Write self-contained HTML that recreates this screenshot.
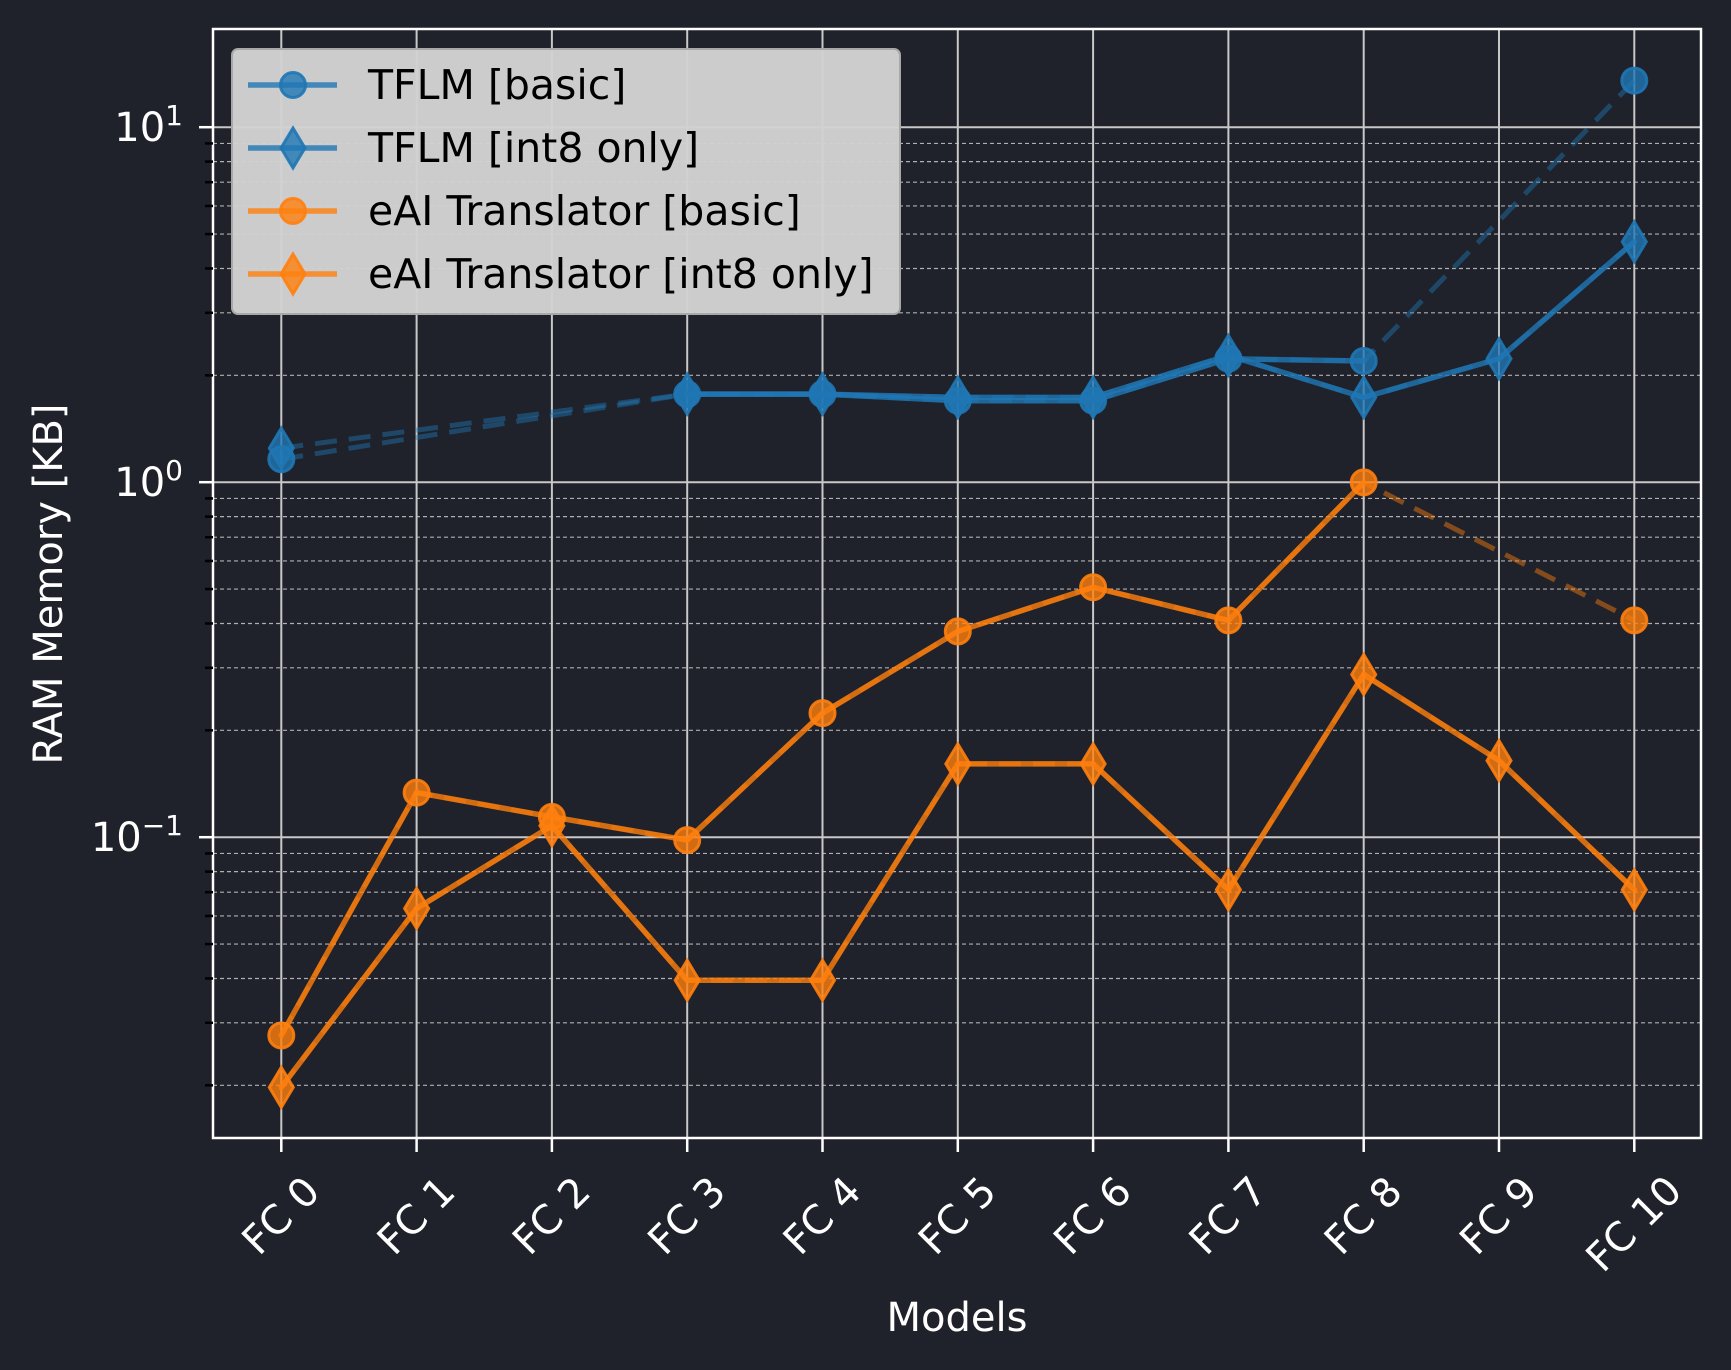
<!DOCTYPE html>
<html><head><meta charset="utf-8"><style>
html,body{margin:0;padding:0;background:#1f212b;}
svg{display:block;font-family:"DejaVu Sans","Liberation Sans",sans-serif;}
</style></head><body>
<svg id="s" width="1731" height="1370" viewBox="0 0 1731 1370" xmlns="http://www.w3.org/2000/svg">
<rect width="1731" height="1370" fill="#1f212b"/>
<g id="grid"></g>
<g id="series"></g>
<rect x="213" y="29" width="1488" height="1109" fill="none" stroke="#ffffff" stroke-width="2.5"/>
<g id="ticks"></g>
<g id="legend"></g>
<text x="957" y="1331" fill="#fff" font-size="40" text-anchor="middle">Models</text>
<text transform="translate(62,584) rotate(-90)" fill="#fff" font-size="40" text-anchor="middle">RAM Memory [KB]</text>
</svg>
<script>
const NS="http://www.w3.org/2000/svg";
function el(p,t,a,txt){const e=document.createElementNS(NS,t);for(const k in a)e.setAttribute(k,a[k]);if(txt!==undefined)e.textContent=txt;p.appendChild(e);return e;}
const L=213,R=1701,T=29,B=1138;
const X=i=>281.3+135.3*i;
const Y=v=>482.2-355*Math.log10(v);
const grid=document.getElementById('grid'),ticks=document.getElementById('ticks');
for(let e=-2;e<=1;e++)for(let m=2;m<=9;m++){const v=m*Math.pow(10,e);const y=Y(v);if(y<T||y>B)continue;
 el(grid,'line',{x1:L,x2:R,y1:y,y2:y,stroke:'#b0b0b0','stroke-width':1.2,'stroke-dasharray':'4,3'});
 el(ticks,'line',{x1:L-8,x2:L,y1:y,y2:y,stroke:'#000','stroke-width':2.5});}
[[1,'1'],[0,'0'],[-1,'−1']].forEach(([e,lab])=>{const y=Y(Math.pow(10,e));
 el(grid,'line',{x1:L,x2:R,y1:y,y2:y,stroke:'#c8c8c8','stroke-width':2});
 el(ticks,'line',{x1:L-14,x2:L,y1:y,y2:y,stroke:'#fff','stroke-width':2.5});
 const t=el(ticks,'text',{x:183,y:y+14,fill:'#fff','font-size':40,'text-anchor':'end'});
 el(t,'tspan',{},'10');el(t,'tspan',{dy:-16,'font-size':28},lab);});
for(let i=0;i<=10;i++){const x=X(i);
 el(grid,'line',{x1:x,x2:x,y1:T,y2:B,stroke:'#c8c8c8','stroke-width':2});
 el(ticks,'line',{x1:x,x2:x,y1:B,y2:B+14,stroke:'#fff','stroke-width':2.5});
 const lab='FC '+i;const w=lab.length*23;const c=1173+(w+30)*0.707/2;
 el(ticks,'text',{transform:`translate(${x},${c}) rotate(-45)`,fill:'#fff','font-size':40,'text-anchor':'middle','dominant-baseline':'central'},lab);}
const k=1.1039;
const S=[
 {c:'#1f77b4',m:'o',d:[416,null,null,357,357,363,363,325,327,null,73]},
 {c:'#1f77b4',m:'d',d:[406,null,null,357,357,360,360,322,360,325,219]},
 {c:'#ff7f0e',m:'o',d:[938,718,740,761,646,572,532,562,437,null,562]},
 {c:'#ff7f0e',m:'d',d:[985,823,748,888,888,692,692,806,611,689,806]}];
const g=document.getElementById('series');
function marker(p,m,x,y,c){ if(m==='o')el(p,'circle',{cx:x,cy:y,r:12.5,fill:c,'fill-opacity':0.8,stroke:c,'stroke-width':3,'stroke-opacity':0.9});
 else el(p,'polygon',{points:`${x},${y-20} ${x+12},${y} ${x},${y+20} ${x-12},${y}`,fill:c,'fill-opacity':0.8,stroke:c,'stroke-width':3,'stroke-opacity':0.9});}
S.forEach(s=>{const pts=[];s.d.forEach((v,i)=>{if(v!==null)pts.push([X(i),v*k,i]);});
 el(g,'polyline',{points:pts.map(p=>p[0]+','+p[1]).join(' '),fill:'none',stroke:s.c,'stroke-width':5,'stroke-opacity':0.45,'stroke-dasharray':'22,12'});
 for(let i=0;i<10;i++){if(s.d[i]!==null&&s.d[i+1]!==null)el(g,'line',{x1:X(i),y1:s.d[i]*k,x2:X(i+1),y2:s.d[i+1]*k,stroke:s.c,'stroke-width':5.5,'stroke-opacity':0.8,'stroke-linecap':'round'});}
 pts.forEach(p=>marker(g,s.m,p[0],p[1],s.c));});
const lg=document.getElementById('legend');
el(lg,'rect',{x:232,y:49,width:668,height:265,rx:6,fill:'#d2d2d2','fill-opacity':0.97,stroke:'#a8a8a8','stroke-width':2});
const names=['TFLM [basic]','TFLM [int8 only]','eAI Translator [basic]','eAI Translator [int8 only]'];
[85,148,211,274].forEach((y,i)=>{const s=S[i];
 el(lg,'line',{x1:248,x2:337,y1:y,y2:y,stroke:s.c,'stroke-width':5.5,'stroke-opacity':0.8});
 marker(lg,s.m,293,y,s.c);
 el(lg,'text',{x:368,y:y+14,fill:'#000','font-size':41},names[i]);});
</script>
</body></html>
